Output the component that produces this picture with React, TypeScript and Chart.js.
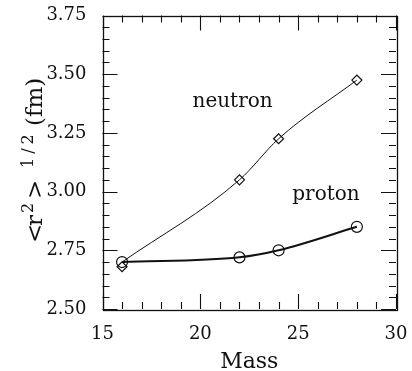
import React, { useEffect, useRef } from "react";
import { Chart, registerables } from "chart.js";

Chart.register(...registerables);

// ---- data ----
const masses = [16, 22, 24, 28];
const neutronPoints = [2.68, 3.05, 3.225, 3.475];
const protonPoints = [2.7, 2.72, 2.75, 2.85];
// smooth curves drawn through the points (the neutron curve starts where the proton one does)
const neutronCurve = [2.7, 3.05, 3.225, 3.475];
const protonCurve = [2.7, 2.72, 2.75, 2.85];

const xMin = 15;
const xMax = 30;
const xMajorStep = 5;
const xMinorPerMajor = 5;
const yMin = 2.5;
const yMax = 3.75;
const yMajorStep = 0.25;
const yMinorPerMajor = 5;

const seriesNames = ["neutron", "proton"];
const seriesNameX = [19.6, 24.7];
const seriesNameY = [3.36, 2.965];

const xTitle = "Mass";

const FONT = "'DejaVu Serif', 'Liberation Serif', serif";

const framePlugin = {
  id: "frame",
  afterDraw(chart: any) {
    const ctx = chart.ctx;
    const { left, right, top, bottom } = chart.chartArea;
    const xs = chart.scales.x;
    const ys = chart.scales.y;
    ctx.save();
    ctx.strokeStyle = "#111";
    ctx.lineWidth = 1.3;
    ctx.strokeRect(Math.round(left) + 0.5, Math.round(top) + 0.5, Math.round(right - left), Math.round(bottom - top));

    ctx.lineWidth = 1.1;
    const nx = Math.round(((xMax - xMin) / xMajorStep) * xMinorPerMajor);
    for (let i = 0; i <= nx; i++) {
      const v = xMin + (i * xMajorStep) / xMinorPerMajor;
      const len = i % xMinorPerMajor === 0 ? 15 : 7;
      const px = Math.round(xs.getPixelForValue(v)) + 0.5;
      ctx.beginPath();
      ctx.moveTo(px, bottom);
      ctx.lineTo(px, bottom - len);
      ctx.moveTo(px, top);
      ctx.lineTo(px, top + len);
      ctx.stroke();
    }
    const ny = Math.round(((yMax - yMin) / yMajorStep) * yMinorPerMajor);
    for (let i = 0; i <= ny; i++) {
      const v = yMin + (i * yMajorStep) / yMinorPerMajor;
      const len = i % yMinorPerMajor === 0 ? 15 : 7;
      const py = Math.round(ys.getPixelForValue(v)) + 0.5;
      ctx.beginPath();
      ctx.moveTo(left, py);
      ctx.lineTo(left + len, py);
      ctx.moveTo(right, py);
      ctx.lineTo(right - len, py);
      ctx.stroke();
    }

    // series names
    ctx.fillStyle = "#111";
    ctx.font = `20px ${FONT}`;
    ctx.textBaseline = "alphabetic";
    ctx.textAlign = "left";
    seriesNames.forEach((name, i) => {
      ctx.fillText(name, xs.getPixelForValue(seriesNameX[i]), ys.getPixelForValue(seriesNameY[i]));
    });

    // y-axis title: <r^2>^{1/2} (fm)
    ctx.translate(42, 243);
    ctx.rotate(-Math.PI / 2);
    const main = `23px ${FONT}`;
    const sup = `16px ${FONT}`;
    const pieces: [string, string, number, number, number][] = [
      ["<", main, 0, 0, 0],
      ["r", main, 17, 0, 0],
      ["2", sup, 30, -9, 0],
      [">", main, 44, 0, 0],
      ["1/2", sup, 75, -9, 4],
      ["(fm)", main, 117, 0, 0],
    ];
    pieces.forEach(([t, f, x, y, ls]) => {
      ctx.font = f;
      (ctx as any).letterSpacing = `${ls}px`;
      ctx.fillText(t, x, y);
    });
    (ctx as any).letterSpacing = "0px";
    ctx.restore();
  },
};

export default function App() {
  const ref = useRef<HTMLCanvasElement | null>(null);
  useEffect(() => {
    document.body.style.margin = "0";
    const canvas = ref.current!;
    const chart = new Chart(canvas, {
      type: "line",
      data: {
        datasets: [
          {
            label: "neutron curve",
            data: masses.map((m, i) => ({ x: m, y: neutronCurve[i] })),
            borderColor: "#111",
            borderWidth: 1,
            pointRadius: 0,
            cubicInterpolationMode: "monotone",
            fill: false,
          },
          {
            label: "proton curve",
            data: masses.map((m, i) => ({ x: m, y: protonCurve[i] })),
            borderColor: "#111",
            borderWidth: 2,
            pointRadius: 0,
            cubicInterpolationMode: "monotone",
            fill: false,
          },
          {
            label: "neutron",
            data: masses.map((m, i) => ({ x: m, y: neutronPoints[i] })),
            showLine: false,
            pointStyle: "rectRot",
            pointRadius: 5,
            pointBorderWidth: 1.2,
            pointBorderColor: "#111",
            pointBackgroundColor: "rgba(0,0,0,0)",
          },
          {
            label: "proton",
            data: masses.map((m, i) => ({ x: m, y: protonPoints[i] })),
            showLine: false,
            pointStyle: "circle",
            pointRadius: 5.5,
            pointBorderWidth: 1.2,
            pointBorderColor: "#111",
            pointBackgroundColor: "rgba(0,0,0,0)",
          },
        ],
      },
      options: {
        animation: false,
        responsive: false,
        devicePixelRatio: 1,
        layout: { padding: { left: 0, right: 16, top: 15.5, bottom: 0 } },
        plugins: { legend: { display: false }, tooltip: { enabled: false } },
        scales: {
          x: {
            type: "linear",
            min: xMin,
            max: xMax,
            grid: { display: false },
            border: { display: false },
            ticks: {
              stepSize: xMajorStep,
              color: "#111",
              font: { family: FONT, size: 18 },
              padding: 7,
              maxRotation: 0,
            },
            title: {
              display: true,
              text: xTitle,
              color: "#111",
              font: { family: FONT, size: 22, lineHeight: 1 },
              padding: { top: 0, bottom: -2 },
            },
            afterFit(scale: any) {
              scale.height = 62;
              scale.paddingLeft = 0;
              scale.paddingRight = 0;
            },
          },
          y: {
            type: "linear",
            min: yMin,
            max: yMax,
            grid: { display: false },
            border: { display: false },
            ticks: {
              stepSize: yMajorStep,
              color: "#111",
              font: { family: FONT, size: 18 },
              padding: 8,
              callback: (v: any) => Number(v).toFixed(2),
            },
            afterFit(scale: any) {
              scale.width = 102.5;
              scale.paddingTop = 0;
              scale.paddingBottom = 0;
            },
          },
        },
      },
      plugins: [framePlugin],
    } as any);
    return () => chart.destroy();
  }, []);
  return <canvas ref={ref} width={412} height={371} style={{ display: "block" }} />;
}
